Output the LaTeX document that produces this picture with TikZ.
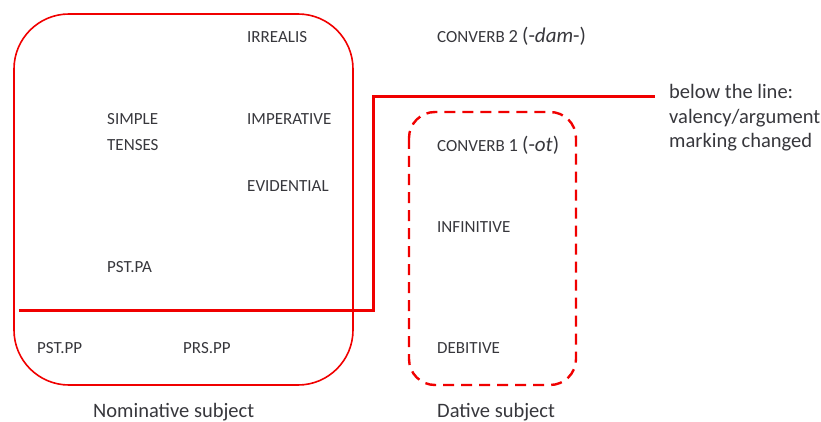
\documentclass[tikz,border=0pt]{standalone}
\usepackage{fontspec}
\setmainfont{Carlito}
\definecolor{txt}{RGB}{55,55,60}
\definecolor{lred}{RGB}{240,0,0}
\begin{document}
\begin{tikzpicture}[x=1pt,y=-1pt,
  sc/.style={anchor=base west,inner sep=0pt,text=txt,font=\fontsize{17}{20}\selectfont},
  lab/.style={anchor=base west,inner sep=0pt,text=txt,font=\fontsize{20.5}{24}\selectfont},
  nombox/.style={draw=lred,line width=1.6pt,rounded corners=55pt},
  datbox/.style={draw=lred,line width=2.4pt,rounded corners=26pt,dash pattern=on 11pt off 7pt},
  divline/.style={draw=lred,line width=3pt}]
\useasboundingbox (0,0) rectangle (821,422);
\draw[nombox] (14,14) rectangle (353,385);
\draw[datbox] (409,112) rectangle (576,385);
\coordinate (l1) at (19,310);
\coordinate (l2) at (373,310);
\coordinate (l3) at (373,97);
\coordinate (l4) at (655,97);
\draw[divline] (l1) -- (l2) -- (l3) -- (l4);
\node[sc] (irr) at (247,43) {IRREALIS};
\node[sc] (simple) at (107,125) {SIMPLE};
\node[sc] (tenses) at (107,151) {TENSES};
\node[sc] (imp) at (247,125) {IMPERATIVE};
\node[sc] (evid) at (247,192) {EVIDENTIAL};
\node[sc] (pstpa) at (107,272) {PST.PA};
\node[sc] (pstpp) at (37,353) {PST.PP};
\node[sc] (prspp) at (183,353) {PRS.PP};
\node[sc] (cv2) at (437,43) {CONVERB {\fontsize{18.5}{20}\selectfont 2 {\fontsize{21}{22}\selectfont (-\textit{dam}-)}}};
\node[sc] (cv1) at (437,152) {CONVERB {\fontsize{18.5}{20}\selectfont 1 {\fontsize{21}{22}\selectfont (-\textit{ot})}}};
\node[sc] (inf) at (437,232) {INFINITIVE};
\node[sc] (deb) at (437,353) {DEBITIVE};
\node[lab] (b1) at (669,99) {below the line:};
\node[lab] (b2) at (669,124) {valency/argument};
\node[lab] (b3) at (669,148) {marking changed};
\node[lab] (nom) at (93,417) {Nominative subject};
\node[lab] (dat) at (437,417) {Dative subject};
\end{tikzpicture}
\end{document}
